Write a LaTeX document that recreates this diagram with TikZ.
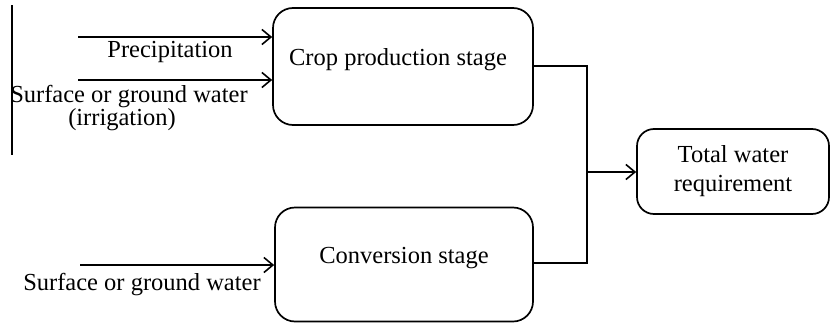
\documentclass[tikz,border=0pt]{standalone}
\usepackage{fontspec}
\setmainfont{Liberation Serif}
\usetikzlibrary{arrows.meta}
\begin{document}
\begin{tikzpicture}[x=1pt,y=-1pt,
  stagebox/.style={draw,line width=1.7pt,rounded corners=20pt,align=center,
    font=\fontsize{24.5}{28}\selectfont,inner sep=0pt},
  lbl/.style={font=\fontsize{24.5}{22}\selectfont,inner sep=0pt,align=center},
  flow/.style={line width=1.6pt,-{Straight Barb[length=9pt,width=15pt,line width=1.6pt]}},
  link/.style={line width=1.6pt}]
\useasboundingbox (0,0) rectangle (832,324);

% stage boxes
\node[stagebox,minimum width=260pt,minimum height=117pt] (crop) at (403,66.5) {};
\node[lbl] at (398,60) {Crop production stage};
\node[stagebox,minimum width=258pt,minimum height=114pt] (conv) at (404,264.5) {};
\node[lbl] at (404,258) {Conversion stage};
\node[stagebox,rounded corners=17pt,minimum width=192pt,minimum height=85pt] (total) at (733,171.5) {Total water\\[1pt]requirement};

% stray margin rule
\coordinate (m1) at (12,5);
\coordinate (m2) at (12,155);
\draw[line width=1.2pt] (m1) -- (m2);

% inputs
\coordinate (p0) at (78,37);
\coordinate (i0) at (78,80);
\coordinate (s0) at (80,265);
\draw[flow] (p0) -- (p0 -| crop.west);
\draw[flow] (i0) -- (i0 -| crop.west);
\draw[flow] (s0) -- (s0 -| conv.west);
\node[lbl] (lp) at (170,52) {Precipitation};
\node[lbl,anchor=north] (li) at (129,85) {Surface or ground water\\(irrigation)\hspace*{14pt}};
\node[lbl] (ls) at (142,285) {Surface or ground water};

% merge to total
\coordinate (j1) at (587,66);
\coordinate (j2) at (587,263);
\coordinate (j3) at (587,172);
\draw[link] (j1 -| crop.east) -- (j1) -- (j2) -- (j2 -| conv.east);
\draw[flow] (j3) -- (j3 -| total.west);
\end{tikzpicture}
\end{document}
